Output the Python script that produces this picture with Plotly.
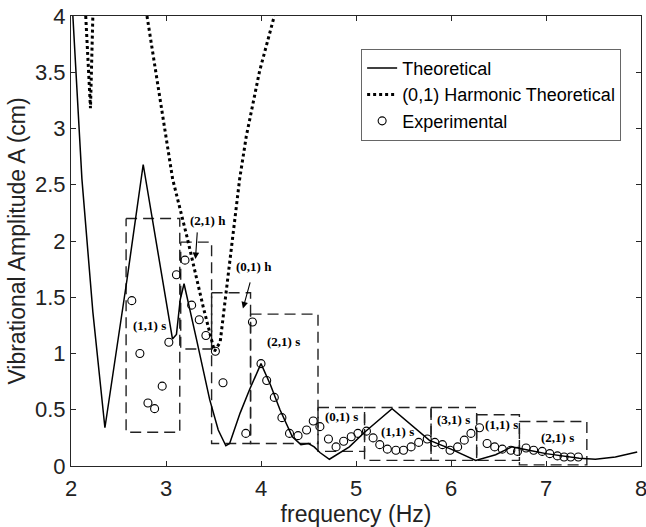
import plotly.graph_objects as go

# ---------------- data ----------------
theo_x = [2.0, 2.095, 2.115, 2.23, 2.357, 2.59, 2.76, 3.068, 3.11, 3.15, 3.19,
          3.32, 3.46, 3.55, 3.63, 3.67, 3.78, 3.88, 4.0, 4.1, 4.2, 4.33, 4.42,
          4.5, 4.56, 4.62, 4.72, 4.93, 5.09, 5.38, 5.77, 6.0, 6.26, 6.47, 6.64,
          6.82, 7.0, 7.35, 7.52, 7.73, 7.96]
theo_y = [4.3, 2.91, 2.55, 1.37, 0.34, 1.66, 2.68, 1.13, 1.17, 1.48, 1.62,
          1.13, 0.59, 0.32, 0.18, 0.20, 0.47, 0.68, 0.91, 0.72, 0.50, 0.26, 0.19,
          0.20, 0.17, 0.12, 0.06, 0.17, 0.30, 0.51, 0.23, 0.15, 0.05, 0.10, 0.17,
          0.14, 0.11, 0.07, 0.06, 0.08, 0.125]

harm_x = [2.155, 2.205, 2.23, None,
          2.80, 3.07, 3.22, 3.39, 3.51, 3.57, 3.775, 3.845, 3.985, 4.14]
harm_y = [4.0, 3.18, 4.0, None,
          4.0, 2.55, 2.04, 1.42, 1.02, 1.10, 2.55, 2.93, 3.51, 4.0]

exp_x = [2.64, 2.725, 2.81, 2.88, 2.96, 3.03, 3.11, 3.20, 3.27, 3.35, 3.42,
         3.52, 3.60, 3.84, 3.91, 4.00, 4.06, 4.14, 4.22, 4.30, 4.39, 4.48,
         4.55, 4.62, 4.71, 4.79, 4.87, 4.95, 5.02, 5.11, 5.18, 5.25, 5.33,
         5.42, 5.50, 5.58, 5.66, 5.75, 5.83, 5.91, 5.99, 6.07, 6.14, 6.21,
         6.30, 6.38, 6.46, 6.54, 6.63, 6.70, 6.79, 6.87, 6.96, 7.04, 7.12,
         7.19, 7.26, 7.34]
exp_y = [1.47, 1.00, 0.56, 0.51, 0.71, 1.10, 1.70, 1.83, 1.43, 1.30, 1.16,
         1.02, 0.74, 0.29, 1.28, 0.91, 0.76, 0.61, 0.43, 0.29, 0.27, 0.32,
         0.40, 0.35, 0.24, 0.17, 0.22, 0.26, 0.29, 0.31, 0.25, 0.19, 0.15,
         0.14, 0.14, 0.17, 0.21, 0.24, 0.21, 0.19, 0.14, 0.17, 0.23, 0.29,
         0.34, 0.20, 0.17, 0.15, 0.14, 0.13, 0.16, 0.14, 0.13, 0.11, 0.09,
         0.08, 0.08, 0.08]

# mode boxes: (x0, x1, y0, y1)
box_labels = ["(1,1) s", "(2,1) h", "(0,1) h", "(2,1) s", "(0,1) s",
              "(1,1) s", "(3,1) s", "(1,1) s", "(2,1) s"]
box_x0 = [2.58, 3.155, 3.48, 3.89, 4.60, 5.09, 5.79, 6.27, 6.72]
box_x1 = [3.145, 3.48, 3.89, 4.60, 5.09, 5.79, 6.27, 6.72, 7.43]
box_y0 = [0.30, 1.04, 0.20, 0.20, 0.13, 0.05, 0.05, 0.05, 0.01]
box_y1 = [2.20, 1.99, 1.54, 1.35, 0.52, 0.52, 0.52, 0.455, 0.395]
label_x = [2.83, 3.44, 3.93, 4.24, 4.85, 5.44, 6.03, 6.53, 7.12]
label_y = [1.25, 2.18, 1.77, 1.11, 0.44, 0.31, 0.41, 0.365, 0.25]

# arrows for harmonic labels: (tail x, tail y, head x, head y)
arrow_tail_x = [3.33, 3.89]
arrow_tail_y = [2.09, 1.645]
arrow_head_x = [3.31, 3.81]
arrow_head_y = [1.84, 1.40]

x_ticks = [2, 3, 4, 5, 6, 7, 8]
y_ticks = [0, 0.5, 1, 1.5, 2, 2.5, 3, 3.5, 4]

# ---------------- figure ----------------
fig = go.Figure()

for i in range(len(box_x0)):
    fig.add_trace(go.Scatter(
        x=[box_x0[i], box_x1[i], box_x1[i], box_x0[i], box_x0[i]],
        y=[box_y1[i], box_y1[i], box_y0[i], box_y0[i], box_y1[i]],
        mode="lines", line=dict(color="#222", width=1.4, dash="11px,6px"),
        showlegend=False, hoverinfo="skip"))

fig.add_trace(go.Scatter(x=theo_x, y=theo_y, mode="lines", name="Theoretical",
                         line=dict(color="black", width=1.5)))
fig.add_trace(go.Scatter(x=harm_x, y=harm_y, mode="lines",
                         name="(0,1) Harmonic Theoretical",
                         line=dict(color="black", width=3, dash="dot")))
fig.add_trace(go.Scatter(x=exp_x, y=exp_y, mode="markers", name="Experimental",
                         marker=dict(symbol="circle-open", size=8, color="black",
                                     line=dict(width=1.1, color="black"))))

for i in range(len(box_labels)):
    fig.add_annotation(x=label_x[i], y=label_y[i], text="<b>" + box_labels[i] + "</b>",
                       showarrow=False,
                       font=dict(family="Liberation Serif", size=13, color="black"))

for i in range(len(arrow_tail_x)):
    fig.add_annotation(x=arrow_head_x[i], y=arrow_head_y[i],
                       ax=arrow_tail_x[i], ay=arrow_tail_y[i],
                       axref="x", ayref="y", xref="x", yref="y", text="",
                       showarrow=True, arrowhead=2, arrowsize=1.2, arrowwidth=1.1,
                       arrowcolor="black")

axis_common = dict(showline=True, linecolor="#262626", linewidth=1, mirror="ticks",
                   ticks="inside", ticklen=5, tickcolor="#262626", showgrid=False,
                   zeroline=False, ticklabeloverflow="allow",
                   tickfont=dict(family="Liberation Sans", size=22, color="#222"))

fig.update_xaxes(range=[2, 8], tickvals=x_ticks, ticklabelstandoff=3,
                 title=dict(text="frequency (Hz)", standoff=2,
                            font=dict(family="Liberation Sans", size=23, color="#222")),
                 **axis_common)
fig.update_yaxes(range=[0, 4], tickvals=y_ticks,
                 title=dict(text="Vibrational Amplitude A (cm)", standoff=2,
                            font=dict(family="Liberation Sans", size=23, color="#222")),
                 **axis_common)

fig.update_layout(
    width=646, height=527,
    margin=dict(l=71, r=5, t=16, b=61, autoexpand=False),
    plot_bgcolor="white", paper_bgcolor="white",
    legend=dict(x=0.509, y=0.927, xanchor="left", yanchor="top",
                bgcolor="white", bordercolor="#666", borderwidth=1,
                font=dict(family="Liberation Sans", size=18, color="black"),
                tracegroupgap=0, itemwidth=30),
)

fig.write_html("out.html")
